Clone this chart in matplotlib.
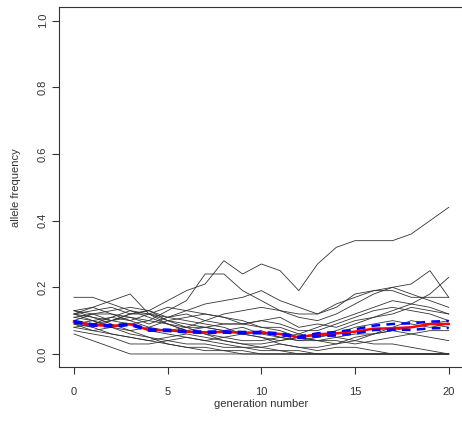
import matplotlib
matplotlib.use("Agg")
import matplotlib.pyplot as plt

generations = list(range(21))

replicates = [
    [0.12,0.11,0.10,0.12,0.13,0.16,0.19,0.21,0.28,0.24,0.27,0.25,0.19,0.27,0.32,0.34,0.34,0.34,0.36,0.40,0.44],
    [0.10,0.09,0.10,0.09,0.10,0.13,0.16,0.24,0.24,0.19,0.16,0.13,0.11,0.10,0.12,0.15,0.18,0.20,0.21,0.25,0.17],
    [0.17,0.17,0.15,0.13,0.12,0.10,0.09,0.08,0.07,0.08,0.06,0.05,0.04,0.04,0.05,0.06,0.06,0.07,0.08,0.09,0.10],
    [0.11,0.12,0.10,0.11,0.09,0.11,0.13,0.15,0.16,0.17,0.19,0.16,0.14,0.12,0.15,0.17,0.19,0.20,0.18,0.16,0.14],
    [0.13,0.14,0.12,0.10,0.08,0.07,0.08,0.10,0.12,0.13,0.14,0.13,0.12,0.12,0.14,0.18,0.19,0.19,0.17,0.17,0.17],
    [0.09,0.08,0.10,0.12,0.13,0.11,0.10,0.09,0.08,0.06,0.07,0.05,0.04,0.05,0.07,0.09,0.11,0.13,0.15,0.18,0.23],
    [0.12,0.13,0.14,0.12,0.12,0.14,0.13,0.12,0.11,0.09,0.10,0.11,0.08,0.09,0.08,0.10,0.11,0.12,0.14,0.13,0.12],
    [0.07,0.06,0.05,0.03,0.03,0.04,0.05,0.04,0.03,0.02,0.02,0.03,0.02,0.02,0.03,0.04,0.06,0.07,0.06,0.05,0.04],
    [0.06,0.04,0.02,0.00,0.00,0.00,0.00,0.00,0.00,0.00,0.00,0.00,0.00,0.00,0.00,0.00,0.00,0.00,0.00,0.00,0.00],
    [0.10,0.08,0.06,0.05,0.04,0.03,0.02,0.01,0.01,0.00,0.00,0.00,0.00,0.00,0.00,0.00,0.00,0.00,0.00,0.00,0.00],
    [0.11,0.10,0.08,0.07,0.05,0.04,0.03,0.03,0.02,0.02,0.01,0.01,0.00,0.00,0.00,0.00,0.00,0.00,0.00,0.00,0.00],
    [0.08,0.09,0.11,0.13,0.11,0.09,0.08,0.08,0.07,0.06,0.05,0.04,0.05,0.04,0.03,0.05,0.06,0.08,0.10,0.09,0.08],
    [0.13,0.11,0.09,0.07,0.08,0.10,0.11,0.12,0.11,0.10,0.08,0.07,0.05,0.04,0.04,0.03,0.04,0.05,0.06,0.07,0.07],
    [0.09,0.10,0.11,0.10,0.12,0.11,0.12,0.10,0.09,0.09,0.10,0.09,0.07,0.07,0.09,0.11,0.13,0.14,0.13,0.12,0.10],
    [0.08,0.07,0.06,0.05,0.04,0.05,0.06,0.05,0.04,0.03,0.03,0.04,0.05,0.06,0.05,0.04,0.03,0.03,0.02,0.01,0.00],
    [0.10,0.12,0.13,0.14,0.13,0.10,0.08,0.06,0.05,0.04,0.04,0.05,0.06,0.08,0.10,0.12,0.14,0.16,0.15,0.14,0.12],
    [0.12,0.10,0.08,0.09,0.07,0.06,0.05,0.04,0.05,0.06,0.05,0.03,0.02,0.01,0.02,0.02,0.01,0.00,0.00,0.00,0.00],
    [0.12,0.14,0.16,0.18,0.12,0.09,0.07,0.06,0.04,0.03,0.02,0.01,0.01,0.00,0.00,0.00,0.00,0.00,0.00,0.00,0.00],
    [0.09,0.07,0.08,0.06,0.05,0.03,0.02,0.02,0.01,0.01,0.00,0.00,0.00,0.00,0.00,0.00,0.00,0.00,0.00,0.00,0.00],
    [0.13,0.12,0.12,0.11,0.10,0.09,0.07,0.08,0.09,0.09,0.08,0.08,0.06,0.05,0.06,0.08,0.09,0.10,0.09,0.08,0.09],
]

mean_freq = [0.097,0.087,0.084,0.089,0.072,0.071,0.067,0.065,0.066,0.064,0.064,0.060,0.050,0.059,0.062,0.067,0.076,0.077,0.080,0.090,0.090]
blue_upper = [0.099,0.089,0.086,0.091,0.074,0.073,0.069,0.067,0.068,0.066,0.066,0.062,0.052,0.062,0.066,0.074,0.085,0.090,0.092,0.097,0.099]
blue_lower = [0.095,0.085,0.082,0.087,0.070,0.069,0.065,0.063,0.064,0.062,0.062,0.058,0.048,0.053,0.056,0.061,0.072,0.073,0.072,0.077,0.078]

xticks = [0, 5, 10, 15, 20]
yticks = [0.0, 0.2, 0.4, 0.6, 0.8, 1.0]

plt.rcParams['font.family'] = ['Liberation Sans', 'DejaVu Sans']

W, H = 462, 425
fig = plt.figure(figsize=(W / 100, H / 100), dpi=100)
ax = fig.add_axes([59 / W, 57.7 / H, (463.7 - 59) / W, (417.6 - 57.7) / H])

for rep in replicates:
    ax.plot(generations, rep, color='#333333', lw=0.6)

ax.plot(generations, mean_freq, color='red', lw=1.8, zorder=3)
for b in (blue_upper, blue_lower):
    ax.plot(generations, b, color='blue', lw=1.8, dashes=(3.5, 2.5), zorder=4)

ax.set_xlim(-0.8, 20.8)
ax.set_ylim(-0.04, 1.04)
ax.set_xticks(xticks)
ax.set_xticklabels([str(t) for t in xticks])
ax.set_yticks(yticks)
ax.set_yticklabels([f"{t:.1f}" for t in yticks], rotation=90, va='center')

for s in ax.spines.values():
    s.set_linewidth(0.8)
    s.set_color('#333333')
ax.spines['right'].set_visible(False)

ax.tick_params(axis='both', direction='out', length=5, width=0.8, color='#333333',
               labelsize=8, labelcolor='#333333')
ax.tick_params(axis='x', pad=9)
ax.tick_params(axis='y', pad=3)

ax.set_xlabel('generation number', fontsize=8, color='#333333', labelpad=1.5)
ax.set_ylabel('allele frequency', fontsize=8, color='#333333', labelpad=12)

fig.savefig('out.png', dpi=100)
